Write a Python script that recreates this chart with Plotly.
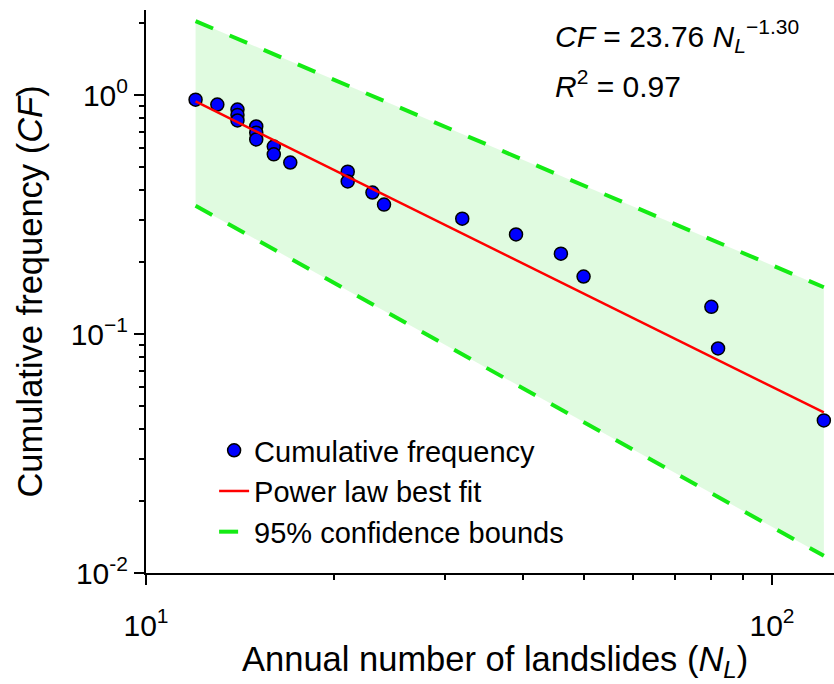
import plotly.graph_objects as go

# Data
N_obs = [12, 13, 14, 14, 14, 15, 15, 15, 16, 16, 17, 21, 21, 23, 24, 32, 39, 46, 50, 80, 82, 121]
CF_obs = [0.957, 0.913, 0.870, 0.826, 0.783, 0.739, 0.696, 0.652, 0.609, 0.565, 0.522,
          0.478, 0.435, 0.391, 0.348, 0.304, 0.261, 0.217, 0.174, 0.130, 0.087, 0.0435]

fit_N = [12, 121]
fit_CF = [0.940, 0.0470]

bound_N = [12, 121]
upper_CF = [2.04, 0.157]
lower_CF = [0.344, 0.0118]

x_tickvals = [10, 100]
x_ticktext = ["10<sup>1</sup>", "10<sup>2</sup>"]
x_minor = [20, 30, 40, 50, 60, 70, 80, 90]
y_tickvals = [0.01, 0.1, 1]
y_ticktext = ["10<sup>-2</sup>", "10<sup>\u22121</sup>", "10<sup>0</sup>"]
y_minor = [0.02, 0.03, 0.04, 0.05, 0.06, 0.07, 0.08, 0.09,
           0.2, 0.3, 0.4, 0.5, 0.6, 0.7, 0.8, 0.9, 2]

FONT = "Liberation Sans, Arial, sans-serif"
GREEN = "rgb(20,235,20)"

fig = go.Figure()

# confidence band fill
fig.add_trace(go.Scatter(x=bound_N, y=lower_CF, mode="lines", line=dict(width=0),
                         showlegend=False, hoverinfo="skip"))
fig.add_trace(go.Scatter(x=bound_N, y=upper_CF, mode="lines", line=dict(width=0),
                         fill="tonexty", fillcolor="rgba(0,220,0,0.12)",
                         showlegend=False, hoverinfo="skip"))

# observed points
fig.add_trace(go.Scatter(x=N_obs, y=CF_obs, mode="markers", name="Cumulative frequency",
                         marker=dict(size=13, color="#0000ff", line=dict(color="black", width=1.5)),
                         legendrank=1))

# fit line
fig.add_trace(go.Scatter(x=fit_N, y=fit_CF, mode="lines", name="Power law best fit",
                         line=dict(color="#ff0000", width=2.5), legendrank=2))

# bounds
fig.add_trace(go.Scatter(x=bound_N, y=upper_CF, mode="lines", name="95% confidence bounds",
                         line=dict(color=GREEN, width=4, dash="19px,18px"),
                         legendgroup="b", legendrank=3))
fig.add_trace(go.Scatter(x=bound_N, y=lower_CF, mode="lines", name="95% confidence bounds",
                         line=dict(color=GREEN, width=4, dash="19px,18px"),
                         legendgroup="b", showlegend=False))

axis_common = dict(
    type="log", showline=True, linecolor="black", linewidth=2,
    ticks="outside", ticklen=10, tickwidth=2, tickcolor="black",
    showgrid=False, zeroline=False, mirror=False,
    tickfont=dict(family=FONT, size=30, color="black"),
)

fig.update_xaxes(**axis_common, range=[1, 2.099], tickmode="array",
                 tickvals=x_tickvals, ticktext=x_ticktext, ticklabelstandoff=15,
                 minor=dict(tickvals=x_minor, ticks="outside", ticklen=5, tickwidth=2,
                            tickcolor="black", showgrid=False))
fig.update_yaxes(**axis_common, range=[-2, 0.356], tickmode="array",
                 tickvals=y_tickvals, ticktext=y_ticktext,
                 minor=dict(tickvals=y_minor, ticks="outside", ticklen=5, tickwidth=2,
                            tickcolor="black", showgrid=False))

# axis titles
fig.add_annotation(xref="paper", yref="paper", x=0.507, y=-0.158, xanchor="center", yanchor="middle",
                   text="Annual number of landslides (<i>N<sub>L</sub></i>)", showarrow=False,
                   font=dict(family=FONT, size=34.5, color="black"))
fig.add_annotation(xref="paper", yref="paper", x=-0.170, y=0.5, xanchor="center", yanchor="middle",
                   textangle=-90, text="Cumulative frequency (<i>CF</i>)", showarrow=False,
                   font=dict(family=FONT, size=34.5, color="black"))

# equation text
fig.add_annotation(xref="paper", yref="paper", x=0.5916, y=0.9538, xanchor="left", yanchor="middle",
                   text="<i>CF</i> = 23.76 <i>N<sub>L</sub></i><sup>\u22121.30</sup>", showarrow=False,
                   font=dict(family=FONT, size=30, color="black"))
fig.add_annotation(xref="paper", yref="paper", x=0.5916, y=0.868, xanchor="left", yanchor="middle",
                   text="<i>R</i><sup>2</sup> = 0.97", showarrow=False,
                   font=dict(family=FONT, size=30, color="black"))

fig.update_layout(
    width=834, height=684,
    margin=dict(l=146, r=0, t=10, b=111, autoexpand=False),
    plot_bgcolor="white", paper_bgcolor="white",
    font=dict(family=FONT, color="black"),
    legend=dict(x=0.099, y=0.263, xanchor="left", yanchor="top",
                bgcolor="rgba(0,0,0,0)", font=dict(family=FONT, size=29, color="black"),
                tracegroupgap=0),
)

fig.write_html("out.html")
